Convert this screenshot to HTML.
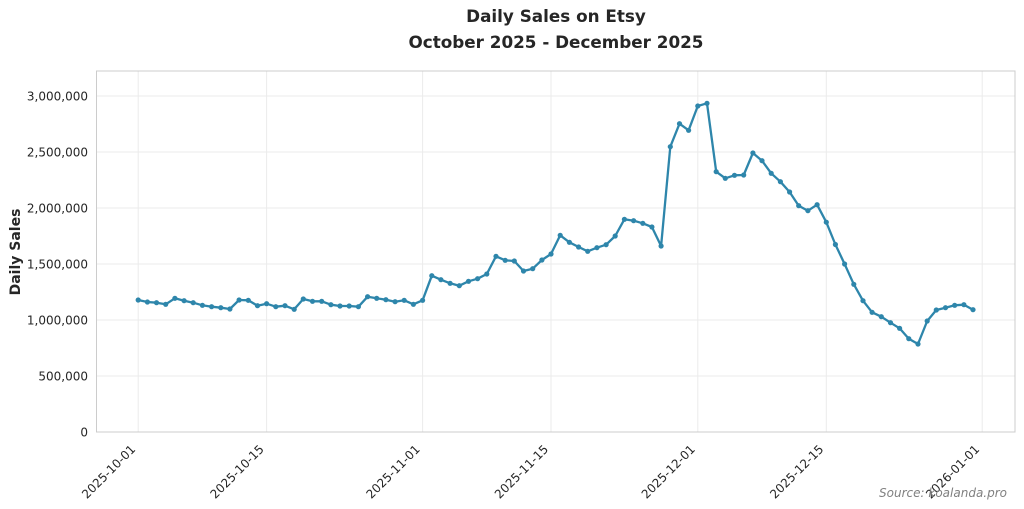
<!DOCTYPE html>
<html><head><meta charset="utf-8"><style>
html,body{margin:0;padding:0;background:#fff;}
svg{display:block;font-family:"DejaVu Sans","Liberation Sans",sans-serif;}
</style></head><body>
<svg width="1024" height="509" viewBox="0 0 1024 509" xmlns="http://www.w3.org/2000/svg">
<defs>
<marker id="m" markerUnits="userSpaceOnUse" markerWidth="8" markerHeight="8" refX="4" refY="4"><circle cx="4" cy="4" r="2.6" fill="#2e86ab"/></marker>
</defs>
<rect width="1024" height="509" fill="#fff"/>
<text x="556" y="22" text-anchor="middle" font-size="16.8" font-weight="bold" fill="#262626">Daily Sales on Etsy</text>
<text x="556" y="48" text-anchor="middle" font-size="16.8" font-weight="bold" fill="#262626">October 2025 - December 2025</text>
<g stroke="#ebebeb" stroke-width="1">
<line x1="96" x2="1015" y1="376" y2="376"/>
<line x1="96" x2="1015" y1="320" y2="320"/>
<line x1="96" x2="1015" y1="264" y2="264"/>
<line x1="96" x2="1015" y1="208" y2="208"/>
<line x1="96" x2="1015" y1="152" y2="152"/>
<line x1="96" x2="1015" y1="96" y2="96"/>
<line x1="138.2" x2="138.2" y1="71" y2="432"/>
<line x1="266.6" x2="266.6" y1="71" y2="432"/>
<line x1="422.6" x2="422.6" y1="71" y2="432"/>
<line x1="551" x2="551" y1="71" y2="432"/>
<line x1="697.8" x2="697.8" y1="71" y2="432"/>
<line x1="826.3" x2="826.3" y1="71" y2="432"/>
<line x1="982.2" x2="982.2" y1="71" y2="432"/>
</g>
<rect x="96.5" y="71" width="918.5" height="361" fill="none" stroke="#cccccc" stroke-width="1"/>
<g font-size="12" fill="#262626" text-anchor="end">
<text x="88" y="436.3">0</text>
<text x="88" y="380.3">500,000</text>
<text x="88" y="324.3">1,000,000</text>
<text x="88" y="268.3">1,500,000</text>
<text x="88" y="212.3">2,000,000</text>
<text x="88" y="156.3">2,500,000</text>
<text x="88" y="100.3">3,000,000</text>
</g>
<g font-size="12" fill="#262626" text-anchor="end">
<text transform="translate(136.2,450) rotate(-45)">2025-10-01</text>
<text transform="translate(264.6,450) rotate(-45)">2025-10-15</text>
<text transform="translate(420.6,450) rotate(-45)">2025-11-01</text>
<text transform="translate(549,450) rotate(-45)">2025-11-15</text>
<text transform="translate(695.8,450) rotate(-45)">2025-12-01</text>
<text transform="translate(824.3,450) rotate(-45)">2025-12-15</text>
<text transform="translate(980.2,450) rotate(-45)">2026-01-01</text>
</g>
<text transform="translate(20,252) rotate(-90)" text-anchor="middle" font-size="14" font-weight="bold" fill="#262626">Daily Sales</text>
<polyline fill="none" stroke="#2e86ab" stroke-width="2.3" stroke-linejoin="round" stroke-linecap="round" marker-start="url(#m)" marker-mid="url(#m)" marker-end="url(#m)" points="138.2,300 147.4,302 156.5,302.7 165.7,304.3 174.9,298.3 184.1,300.7 193.2,302.7 202.4,305.3 211.6,306.7 220.8,307.7 229.9,309 239.1,300 248.3,300.3 257.5,305.7 266.6,303.7 275.8,306.7 285,305.7 294.2,309.3 303.3,299 312.5,301.3 321.7,301.3 330.9,304.7 340,306 349.2,306 358.4,306.7 367.6,296.7 376.7,298.3 385.9,299.7 395.1,301.7 404.2,300.3 413.4,304.3 422.6,300.3 431.8,275.7 440.9,279.7 450.1,283.3 459.3,285.7 468.5,281.3 477.6,278.7 486.8,274 496,256.3 505.2,260.3 514.3,261 523.5,271 532.7,268.7 541.9,260 551,254 560.2,235.3 569.4,242.3 578.6,247 587.7,251.3 596.9,247.7 606.1,244.7 615.2,236 624.4,219.3 633.6,220.7 642.8,223.3 651.9,227 661.1,246 670.3,146.7 679.5,123.7 688.6,130.3 697.8,106 707,103.3 716.2,171.7 725.3,178.3 734.5,175.3 743.7,175 752.9,153 762,160.7 771.2,173.3 780.4,181.7 789.6,192 798.7,205.7 807.9,210.7 817.1,204.7 826.3,222.2 835.4,244.5 844.6,264 853.8,284.3 863,300.7 872.1,312.3 881.3,316.7 890.5,322.7 899.6,328.3 908.8,338.7 918,344 927.2,321 936.3,310 945.5,307.7 954.7,305.3 963.9,304.7 973,309.7"/>
<text x="1007" y="497" text-anchor="end" font-size="12" font-style="italic" fill="#808080">Source: koalanda.pro</text>
</svg>
</body></html>
